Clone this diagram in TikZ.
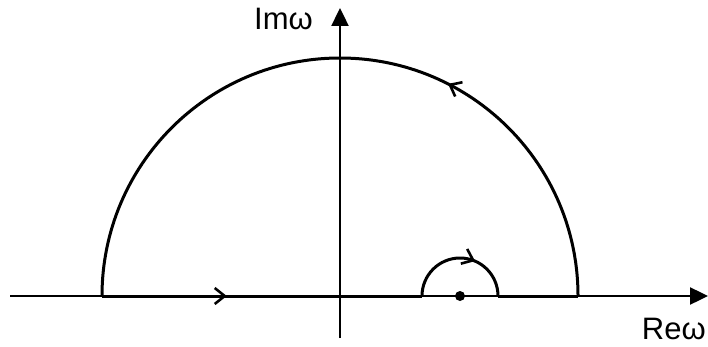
\documentclass[tikz,border=0pt]{standalone}
\usepackage{fontspec}
\setmainfont{Liberation Sans}
\usetikzlibrary{arrows.meta,decorations.markings}
\tikzset{
  axis/.style={line width=2.4pt, -{Triangle[length=18pt, width=17pt]}},
  contour/.style={line width=3pt},
  flow/.style={postaction={decorate}, decoration={markings,
      mark=at position #1 with {\arrow{Straight Barb[length=10pt, width=16pt, line width=2.6pt]}}}},
  lbl/.style={font=\fontsize{31}{32}\selectfont, inner sep=0pt}
}

\begin{document}
\begin{tikzpicture}[x=1pt, y=1pt]
\useasboundingbox (0,0) rectangle (708,346);
% axes
\coordinate (west) at (10,50);
\coordinate (east) at (708,50);
\coordinate (south) at (340,8);
\coordinate (north) at (340,338);
\draw[axis] (west) -- (east);
\draw[axis] (south) -- (north);
\node[lbl, anchor=base east] (relbl) at (706,7) {Reω};
\node[lbl, anchor=base west] (imlbl) at (254,316) {Imω};
% contour
\coordinate (bigl) at (102,50);
\coordinate (smalll) at (422,50);
\coordinate (smallr) at (498,50);
\coordinate (bigr) at (578,50);
\coordinate (pole) at (460,50);
\draw[contour, flow=0.39] (bigl) -- (smalll);
\draw[contour, flow=0.63] (smalll) arc[start angle=180, end angle=0, radius=38];
\draw[contour] (smallr) -- (bigr);
\draw[contour, flow=0.35] (bigr) arc[start angle=0, end angle=180, radius=238];
\fill (pole) circle (5pt);
\end{tikzpicture}
\end{document}
